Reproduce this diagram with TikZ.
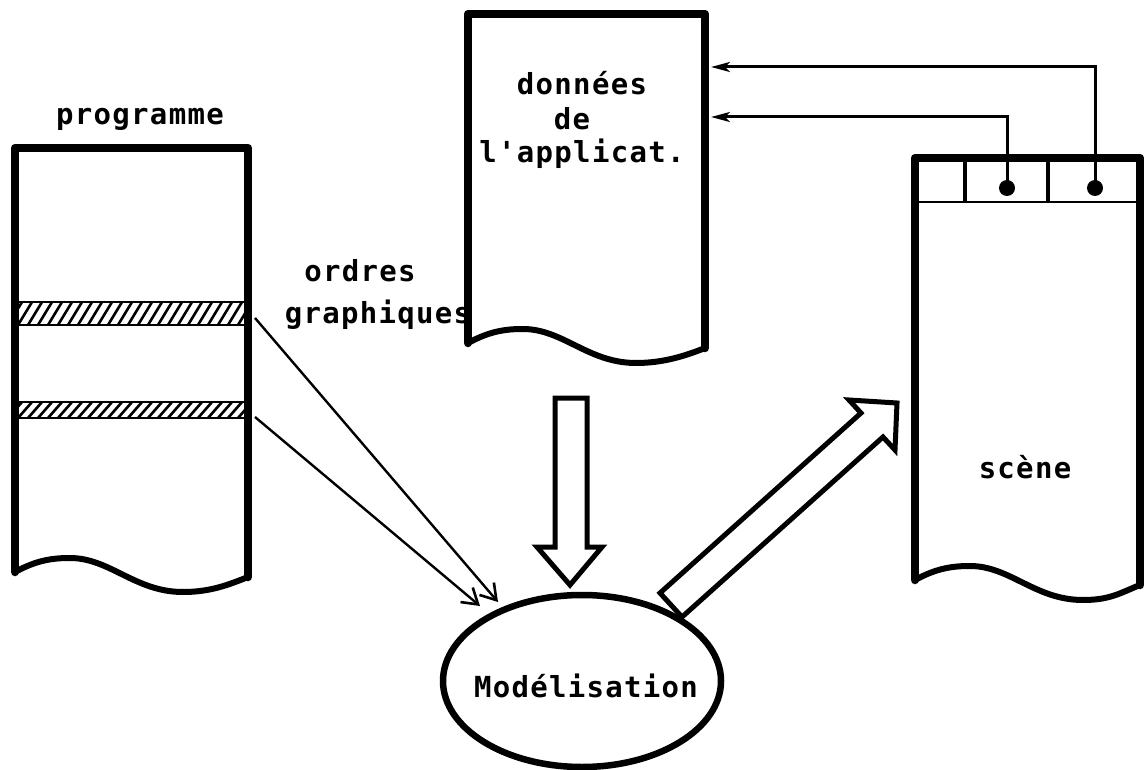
\documentclass[tikz,border=0pt]{standalone}
\usepackage{fontspec}
\usetikzlibrary{arrows.meta,shapes.geometric}
\newfontfamily\dotfont{DejaVu Sans Mono}[LetterSpace=4.5]

% torn sheet: #1 left x, #2 top y, #3 right x, #4 y of the lower left corner
\newcommand\tornsheet[4]{%
  \draw[sheetside] (#1,#4) -- (#1,#2) -- (#3,#2) -- (#3,{#4+5});
  \draw[sheettop] (#1,#2) -- (#3,#2);
  \draw[sheetwave] (#1,#4)
    .. controls ({#1+22},{#4-12}) and ({#1+38},{#4-14}) .. ({#1+55},{#4-14})
    .. controls ({#1+95},{#4-14}) and ({#1+120},{#4+20}) .. ({#1+168},{#4+20})
    .. controls ({#1+195},{#4+20}) and ({#3-20},{#4+13}) .. (#3,{#4+5});
}

\begin{document}
\begin{tikzpicture}[x=1pt,y=-1pt,
  sheetside/.style={line width=8.5pt,line join=round,line cap=round},
  sheettop/.style={line width=6.5pt,line cap=round},
  sheetwave/.style={line width=6pt,line cap=round},
  label/.style={font=\dotfont\bfseries\fontsize{29}{32}\selectfont,anchor=base,inner sep=0pt},
  hatch/.style={line width=2.6pt},
  bandedge/.style={line width=2.8pt},
  thinarrow/.style={line width=2.4pt,-{Straight Barb[length=15pt,width=19pt,line width=2.6pt]}},
  linkline/.style={line width=3pt,-{Stealth[length=19pt,width=10pt,inset=5pt]}},
  blockarrow/.style={line width=5pt,line join=miter},
  dot/.style={circle,fill,inner sep=0pt,minimum size=16pt}]
\useasboundingbox (0,0) rectangle (1146,770);

% captions placed first so the sheet edges cover them
\node[label] (progtitle) at (140,125) {programme};
\node[label] (ordres) at (360,281) {ordres};
\node[label] (graph) at (378,323) {graphiques};

% the three sheets
\tornsheet{15}{148}{248}{572}
\tornsheet{468}{14}{705}{343}
\tornsheet{915}{158}{1140}{580}

% hatched bands of the program listing
\foreach \yt/\yb in {302/325,402/418}{
  \begin{scope}
    \clip (18,\yt) rectangle (245,\yb);
    \foreach \x in {6,16,...,270}
      \draw[hatch] ({\x-8},\yb) -- ({\x+6},\yt);
  \end{scope}
  \draw[bandedge] (18,\yt) -- (245,\yt);
  \draw[bandedge] (18,\yb) -- (245,\yb);
}
\coordinate (band1) at (255,318);
\coordinate (band2) at (255,417);

% data sheet text
\node[label] (d1) at (582,95) {données};
\node[label] (d2) at (572,130) {de};
\node[label] (d3) at (582,163) {l'applicat.};

% scene sheet: header cells and pointers
\draw[line width=2.5pt] (917,202) -- (1138,202);
\draw[line width=4pt] (965,158) -- (965,202);
\draw[line width=4pt] (1048,158) -- (1048,202);
\node[dot] (p1) at (1007,188) {};
\node[dot] (p2) at (1095,188) {};
\node[label] (scene) at (1025,478) {scène};

\coordinate (in1) at (711,117);
\coordinate (in2) at (711,67);
\draw[linkline] (p1.center) |- (in1);
\draw[linkline] (p2.center) |- (in2);

% modelling step
\node[draw,ellipse,line width=6.5pt,minimum width=278pt,minimum height=172pt,inner sep=0pt] (model) at (582,681) {};
\node[label] (modtext) at (586,697) {Modélisation};

\coordinate (tip1) at (498,602);
\coordinate (tip2) at (480,606);
\draw[thinarrow] (band1) -- (tip1);
\draw[thinarrow] (band2) -- (tip2);

% block arrow: data into the model
\draw[blockarrow] (555,398) -- (555,547) -- (537,547) -- (570,585) -- (602,547)
  -- (587,547) -- (587,398) -- cycle;

% block arrow: model into the scene
\draw[blockarrow] (660,593) -- (861,413) -- (849,400) -- (897,403) -- (895,450)
  -- (883,437) -- (682,617) -- cycle;
\end{tikzpicture}
\end{document}
